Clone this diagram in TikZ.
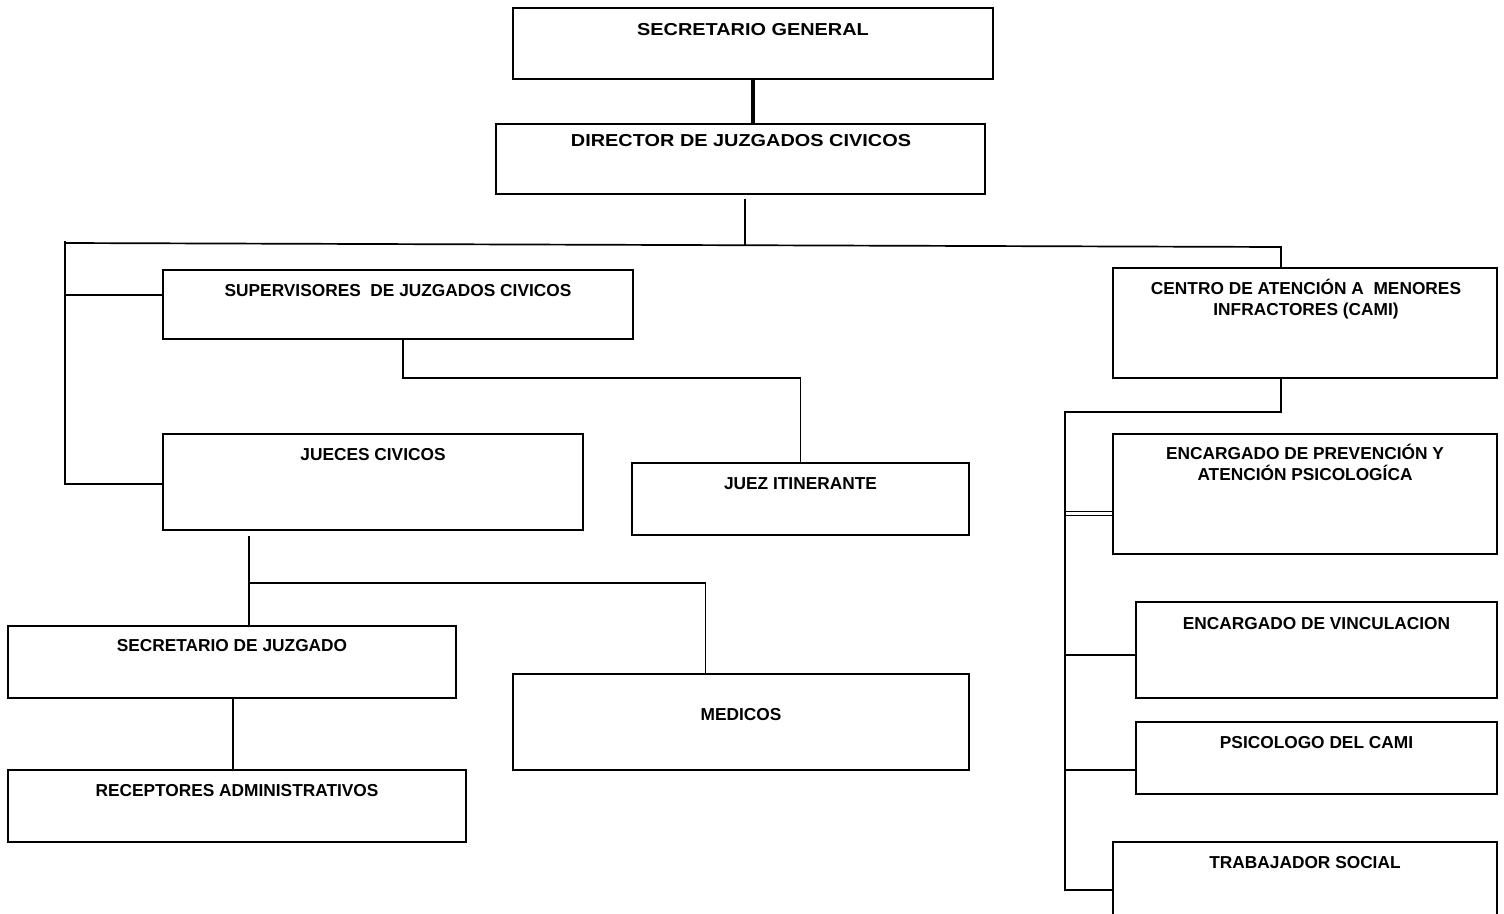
\documentclass[tikz,border=0pt]{standalone}
\usepackage{fontspec}
\setmainfont{Liberation Sans}
\newfontfamily\titlefont[FakeStretch=1.15]{Liberation Sans}
\usetikzlibrary{calc}

\begin{document}
\begin{tikzpicture}[x=1pt,y=-1pt,
  box/.style={draw, line width=2pt, inner sep=0pt, outer sep=0pt},
  lbl/.style={font=\bfseries\fontsize{17.3}{20.5}\selectfont, inner sep=0pt, align=center, anchor=base},
  ttl/.style={font=\titlefont\bfseries\fontsize{17.3}{20.5}\selectfont, inner sep=0pt, anchor=base},
  link/.style={line width=1.7pt},
  mainlink/.style={line width=3.8pt},
  twinlink/.style={line width=1.3pt}]
\useasboundingbox (0,0) rectangle (1504,913);
\clip (0,0) rectangle (1504,913);

% ---- boxes ----
\node[box, minimum width=480, minimum height=71]  (sg)   at (753,43.5)   {};
\node[box, minimum width=489, minimum height=70]  (dir)  at (740.5,159)  {};
\node[box, minimum width=470, minimum height=69]  (sup)  at (398,304.5)  {};
\node[box, minimum width=420, minimum height=96]  (jue)  at (373,482)    {};
\node[box, minimum width=337, minimum height=72]  (jit)  at (800.5,499)  {};
\node[box, minimum width=448, minimum height=72]  (secj) at (232,662)    {};
\node[box, minimum width=458, minimum height=72]  (rec)  at (237,806)    {};
\node[box, minimum width=456, minimum height=96]  (med)  at (741,722)    {};
\node[box, minimum width=384, minimum height=110] (cami) at (1305,323)   {};
\node[box, minimum width=384, minimum height=120] (encp) at (1305,494)   {};
\node[box, minimum width=361, minimum height=96]  (encv) at (1316.5,650) {};
\node[box, minimum width=361, minimum height=72]  (psic) at (1316.5,758) {};
\node[box, minimum width=384, minimum height=108] (trab) at (1305,896)   {};

% ---- labels ----
\node[ttl] (sg-t)   at (753,35.7)    {SECRETARIO GENERAL};
\node[ttl] (dir-t)  at (741,146)     {DIRECTOR DE JUZGADOS CIVICOS};
\node[lbl] (sup-t)  at (398,296.7)   {SUPERVISORES\ \ DE JUZGADOS CIVICOS};
\node[lbl] (jue-t)  at (373,460.7)   {JUECES CIVICOS};
\node[lbl] (jit-t)  at (800.5,489.3) {JUEZ ITINERANTE};
\node[lbl] (secj-t) at (232,651.7)   {SECRETARIO DE JUZGADO};
\node[lbl] (rec-t)  at (237,796)     {RECEPTORES ADMINISTRATIVOS};
\node[lbl] (med-t)  at (741,720)     {MEDICOS};
\node[lbl] (cami-t) at (1306,315)    {CENTRO DE ATENCIÓN A\ \ MENORES\\INFRACTORES (CAMI)};
\node[lbl] (encp-t) at (1305,480)    {ENCARGADO DE PREVENCIÓN Y\\ATENCIÓN PSICOLOGÍCA};
\node[lbl] (encv-t) at (1316.5,629)  {ENCARGADO DE VINCULACION};
\node[lbl] (psic-t) at (1316.5,748.3){PSICOLOGO DEL CAMI};
\node[lbl] (trab-t) at (1305,868.3)  {TRABAJADOR SOCIAL};

% ---- connectors ----
\coordinate (hub)  at (745,245);
\coordinate (busL) at (65,243);
\coordinate (busR) at (1281,247);
\coordinate (camibus) at (1065,411.7);

\draw[mainlink] (sg.south) -- (sg.south |- dir.north);
\draw[link] ([yshift=-5pt]dir.south -| hub) -- (hub);
\draw[link] (busL) -- (busR) -- (cami.north -| busR);

% left branch
\draw[link] ([yshift=2pt]busL) -- (65,484) -- (jue.west |- 65,484);
\draw[link] (65,295) -- (sup.west |- 65,295);
\draw[link] (sup.south -| 403,0) -- (403,378.3) -| (jit.north);

% judges and their staff
\draw[link] (249,536) -- (secj.north -| 249,0);
\draw[link] (249,583) -- (705.5,583) -- (med.north -| 705.5,0);
\draw[link] (secj.south -| 233,0) -- (rec.north -| 233,0);

% CAMI branch
\draw[link] (cami.south -| 1281,0) -- (1281,411.7) -- (camibus);
\draw[link] ([yshift=1pt]camibus) -- (1065,890) -- (trab.west |- 0,890);
\draw[twinlink] (1065,511.5) -- (encp.west |- 0,511.5);
\draw[twinlink] (1065,515.2) -- (encp.west |- 0,515.2);
\draw[link] (1065,655) -- (encv.west |- 0,655);
\draw[link] (1065,770) -- (psic.west |- 0,770);
\end{tikzpicture}
\end{document}
